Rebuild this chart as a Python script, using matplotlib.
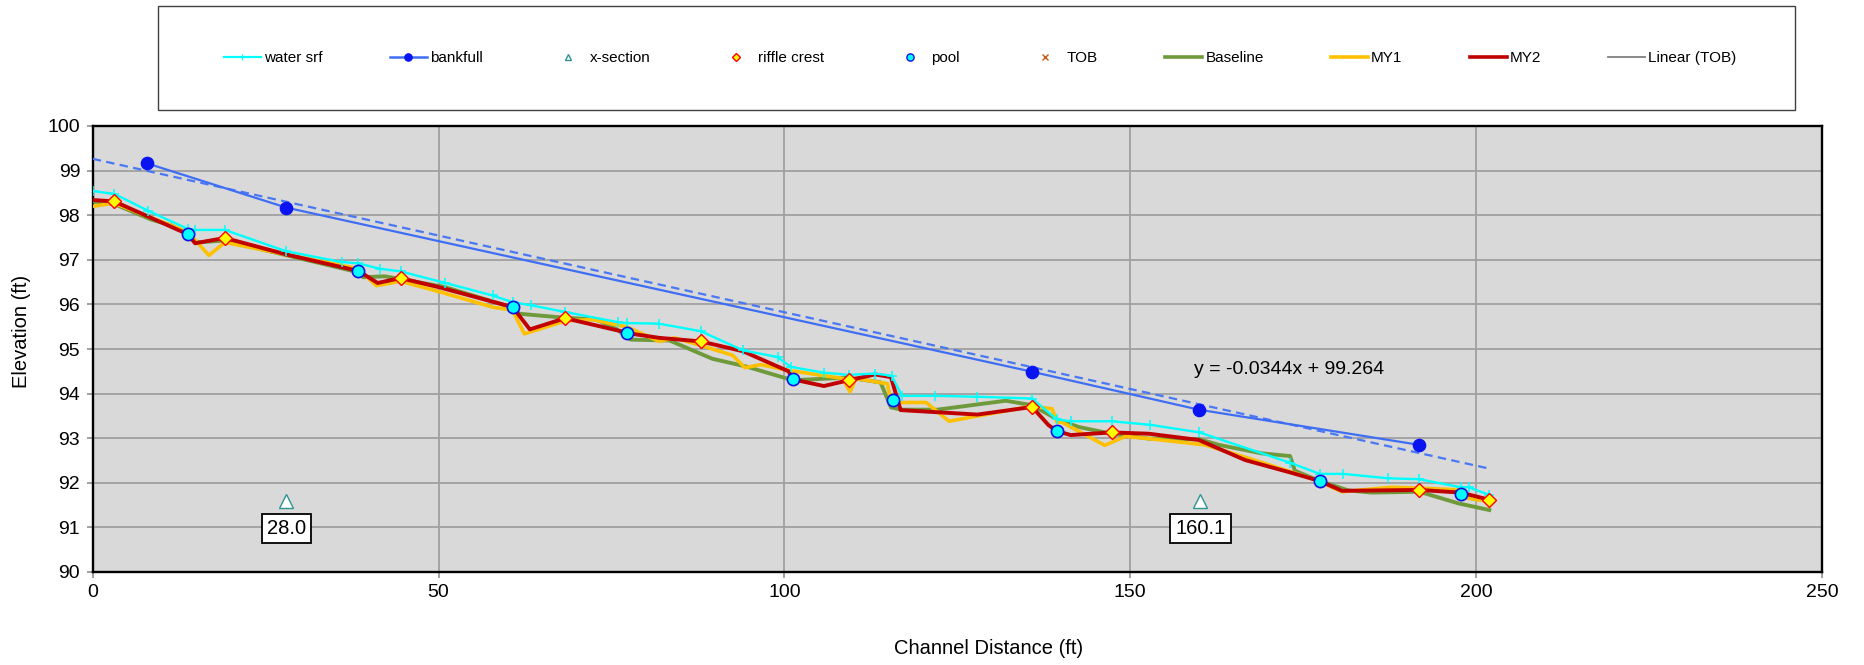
import numpy as np
import matplotlib
matplotlib.use("Agg")
import matplotlib.pyplot as plt
from matplotlib.lines import Line2D
from matplotlib.patches import Rectangle

plt.rcParams['font.family'] = ['Liberation Sans', 'DejaVu Sans']

# ---------------- profile data (channel distance ft, elevation ft) ----------------
water_srf_x = [0, 3.1, 8.0, 13.8, 14.8, 19.1, 28.0, 36.0, 38.4, 41.5, 44.5, 51.0, 57.8,
               60.7, 63.4, 68.3, 76.0, 77.3, 81.8, 87.9, 94.0, 99.0, 100.9, 105.7, 109.3,
               113.1, 115.5, 117.0, 121.8, 127.9, 135.8, 139.4, 141.4, 147.3, 152.9, 160.0,
               173.1, 177.4, 180.8, 187.3, 191.8, 197.8, 198.9, 201.9]
water_srf_y = [98.54, 98.48, 98.10, 97.69, 97.67, 97.67, 97.19, 96.95, 96.92, 96.80, 96.74,
               96.48, 96.20, 96.05, 95.98, 95.83, 95.60, 95.58, 95.57, 95.40, 94.97, 94.82,
               94.60, 94.47, 94.42, 94.45, 94.40, 93.95, 93.95, 93.93, 93.89, 93.42, 93.38,
               93.38, 93.30, 93.13, 92.45, 92.20, 92.20, 92.10, 92.08, 91.90, 91.90, 91.73]

bankfull_x = [7.9, 28.0, 135.8, 159.9, 191.8]
bankfull_y = [99.16, 98.17, 94.49, 93.64, 92.85]

tob_x = bankfull_x
tob_y = bankfull_y

xsec_x = [28.0, 160.1]
xsec_y = [91.6, 91.6]
xsec_labels = ["28.0", "160.1"]

riffle_x = [3.1, 19.1, 44.5, 68.3, 87.9, 109.3, 135.8, 147.3, 191.8, 201.9]
riffle_y = [98.31, 97.49, 96.59, 95.69, 95.17, 94.30, 93.71, 93.13, 91.84, 91.61]

pool_x = [13.8, 38.4, 60.7, 77.3, 101.2, 115.7, 139.4, 177.4, 197.8]
pool_y = [97.57, 96.74, 95.94, 95.36, 94.32, 93.86, 93.16, 92.04, 91.75]

baseline_x = [0, 3.1, 8.5, 11.4, 13.8, 14.8, 19.1, 38.4, 39.1, 42.2, 44.5, 50.9, 60.7,
              61.7, 68.3, 72.8, 75.7, 77.8, 83.4, 89.6, 94.4, 101.2, 109.3, 113.9, 115.4,
              117.0, 122.1, 132.0, 135.8, 139.7, 142.6, 147.3, 152.7, 159.9, 162.8, 169.0,
              173.1, 173.8, 177.4, 181.5, 184.9, 191.8, 197.4, 201.9]
baseline_y = [98.31, 98.25, 97.90, 97.77, 97.57, 97.39, 97.43, 96.72, 96.61, 96.63, 96.57,
              96.39, 95.93, 95.79, 95.70, 95.66, 95.45, 95.21, 95.19, 94.78, 94.61, 94.30,
              94.36, 94.25, 93.69, 93.64, 93.64, 93.84, 93.74, 93.40, 93.25, 93.10, 92.99,
              92.98, 92.85, 92.66, 92.60, 92.27, 92.04, 91.83, 91.78, 91.80, 91.54, 91.39]

my1_x = [0, 3.1, 13.8, 16.8, 19.1, 38.4, 41.0, 44.5, 50.2, 57.8, 60.7, 62.4, 68.3, 72.3,
         77.3, 81.9, 84.1, 87.9, 92.5, 94.3, 96.6, 100.2, 108.4, 109.5, 110.3, 114.9, 115.4,
         116.6, 120.5, 123.8, 135.8, 138.7, 139.4, 140.1, 146.3, 149.3, 152.7, 160.8, 167.1,
         176.7, 180.6, 187.8, 191.8, 197.8, 198.9, 201.9]
my1_y = [98.20, 98.27, 97.62, 97.10, 97.39, 96.80, 96.42, 96.52, 96.28, 95.94, 95.87, 95.34,
         95.63, 95.66, 95.49, 95.17, 95.25, 95.08, 94.86, 94.58, 94.65, 94.53, 94.34, 94.04,
         94.34, 94.22, 93.81, 93.80, 93.80, 93.38, 93.72, 93.66, 93.36, 93.36, 92.84, 93.04,
         92.99, 92.85, 92.55, 92.07, 91.80, 91.90, 91.88, 91.84, 91.65, 91.58]

my2_x = [0, 3.1, 13.8, 14.8, 19.1, 28.0, 38.4, 41.2, 44.5, 50.2, 60.7, 63.2, 68.3, 78.0,
         81.9, 87.9, 94.0, 100.6, 101.2, 105.7, 109.3, 113.1, 115.4, 116.8, 127.9, 135.8,
         138.2, 139.4, 141.4, 147.3, 152.7, 159.9, 166.6, 173.4, 177.4, 180.6, 191.8, 197.8,
         201.9]
my2_y = [98.34, 98.31, 97.57, 97.37, 97.49, 97.12, 96.75, 96.48, 96.59, 96.38, 95.94, 95.44,
         95.69, 95.34, 95.25, 95.17, 94.95, 94.50, 94.32, 94.17, 94.30, 94.43, 94.37, 93.63,
         93.53, 93.70, 93.29, 93.16, 93.07, 93.13, 93.10, 92.96, 92.51, 92.22, 92.04, 91.82,
         91.84, 91.78, 91.62]

# linear trend of top of bank
trend_slope = -0.0344
trend_intercept = 99.264
trend_x = [0, 201.9]

x_ticks = [0, 50, 100, 150, 200, 250]
y_ticks = [90, 91, 92, 93, 94, 95, 96, 97, 98, 99, 100]

# ---------------- colours ----------------
C_WATER = '#00FFFF'
C_BKF_LINE = '#3F6EF5'
C_BKF_DOT = '#0A14F0'
C_TREND = '#4A78F5'
C_XSEC = '#2E9494'
C_TOB = '#C55A11'
C_BASE = '#6F9A3C'
C_MY1 = '#FFC000'
C_MY2 = '#C00000'

W, H = 1864, 665
fig = plt.figure(figsize=(W / 100, H / 100), dpi=100)
ax = fig.add_axes([92.7 / W, 1 - 572 / H, (1822 - 92.7) / W, (572 - 126) / H])
ax.set_facecolor('#D9D9D9')
ax.set_xlim(0, 250)
ax.set_ylim(90, 100)
ax.set_xticks(x_ticks)
ax.set_yticks(y_ticks)
ax.grid(True, color='#A0A0A0', lw=1.3)
ax.set_axisbelow(True)
for s in ax.spines.values():
    s.set_color('black')
    s.set_linewidth(1.7)
ax.tick_params(axis='both', direction='out', length=4.5, width=1.2, color='#909090',
               labelsize=14, labelcolor='black')
ax.tick_params(axis='y', pad=4.5)
ax.tick_params(axis='x', pad=4)

# profile lines
ax.plot(baseline_x, baseline_y, color=C_BASE, lw=2.8, zorder=3)
ax.plot(my1_x, my1_y, color=C_MY1, lw=2.6, zorder=4)
ax.plot(my2_x, my2_y, color=C_MY2, lw=2.8, zorder=5)
ax.plot(water_srf_x, water_srf_y, color=C_WATER, lw=1.7, marker='+', ms=6.5, mew=1.1,
        zorder=6)

# bankfull, top of bank and its trend
tx = np.array(trend_x)
ax.plot(tx, trend_slope * tx + trend_intercept, color=C_TREND, lw=1.6,
        linestyle=(0, (3.8, 2.4)), zorder=6)
ax.plot(tob_x, tob_y, linestyle='none', marker='x', ms=4, color=C_TOB, zorder=6.5)
ax.plot(bankfull_x, bankfull_y, color=C_BKF_LINE, lw=1.6, marker='o', ms=8.8,
        mfc=C_BKF_DOT, mec=C_BKF_DOT, zorder=7)

# bed features
ax.plot(pool_x, pool_y, linestyle='none', marker='o', ms=8.8, mfc=C_WATER, mec='#1010E0',
        mew=1.2, zorder=8)
ax.plot(riffle_x, riffle_y, linestyle='none', marker='D', ms=6.8, mfc='#FFFF00',
        mec='#FF0000', mew=1.0, zorder=9)

# cross-section stations
ax.plot(xsec_x, xsec_y, linestyle='none', marker='^', ms=10.5, mfc='white', mec=C_XSEC,
        mew=1.0, zorder=8)
for xv, yv, lab in zip(xsec_x, xsec_y, xsec_labels):
    ax.annotate(lab, (xv, yv), xytext=(0, -20), textcoords='offset points',
                ha='center', va='center', fontsize=14.5, zorder=10,
                bbox=dict(boxstyle='square,pad=0.26', fc='white', ec='black', lw=1.3))

# trend equation
ax.text(173.0, 94.53, f"y = {trend_slope:.4f}x + {trend_intercept:.3f}",
        ha='center', va='center', fontsize=14, zorder=10)

# axis titles
ax.set_xlabel('Channel Distance (ft)', fontsize=14.5, va='center')
ax.xaxis.set_label_coords(0.518, -0.1726)
ax.set_ylabel('Elevation (ft)', fontsize=14.5, va='center')
ax.yaxis.set_label_coords(-0.0412, 0.54)

# legend
handles = [
    Line2D([], [], color=C_WATER, lw=1.6, marker='+', ms=4, mew=0.8),
    Line2D([], [], color=C_BKF_LINE, lw=1.8, marker='o', ms=5.2, mfc=C_BKF_DOT,
           mec=C_BKF_DOT),
    Line2D([], [], linestyle='none', marker='^', ms=5, mfc='white', mec=C_XSEC, mew=1.0),
    Line2D([], [], linestyle='none', marker='D', ms=4.2, mfc='#FFFF00', mec='#FF0000',
           mew=1.0),
    Line2D([], [], linestyle='none', marker='o', ms=5.2, mfc=C_WATER, mec='#1010E0',
           mew=1.0),
    Line2D([], [], linestyle='none', marker='x', ms=5, color=C_TOB, mew=1.0),
    Line2D([], [], color=C_BASE, lw=2.6),
    Line2D([], [], color=C_MY1, lw=2.6),
    Line2D([], [], color=C_MY2, lw=2.6),
    Line2D([], [], color='#808080', lw=1.3),
]
labels = ['water srf', 'bankfull', 'x-section', 'riffle crest', 'pool', 'TOB',
          'Baseline', 'MY1', 'MY2', 'Linear (TOB)']
box_l, box_r, box_t, box_b = 158, 1795, 6, 110
fig.patches.append(Rectangle((box_l / W, 1 - box_b / H), (box_r - box_l) / W,
                             (box_b - box_t) / H, transform=fig.transFigure,
                             fill=True, fc='white', ec='#404040', lw=1.0, zorder=0))
fig.legend(handles, labels, loc='center',
           bbox_to_anchor=(box_l / W + 0.002, 1 - box_b / H, (box_r - box_l) / W,
                           (box_b - box_t) / H),
           ncol=10, frameon=False, fontsize=11, handlelength=2.42, handletextpad=0.2,
           columnspacing=4.4, borderpad=0.2)

fig.savefig('out.png', dpi=100, facecolor='white')
